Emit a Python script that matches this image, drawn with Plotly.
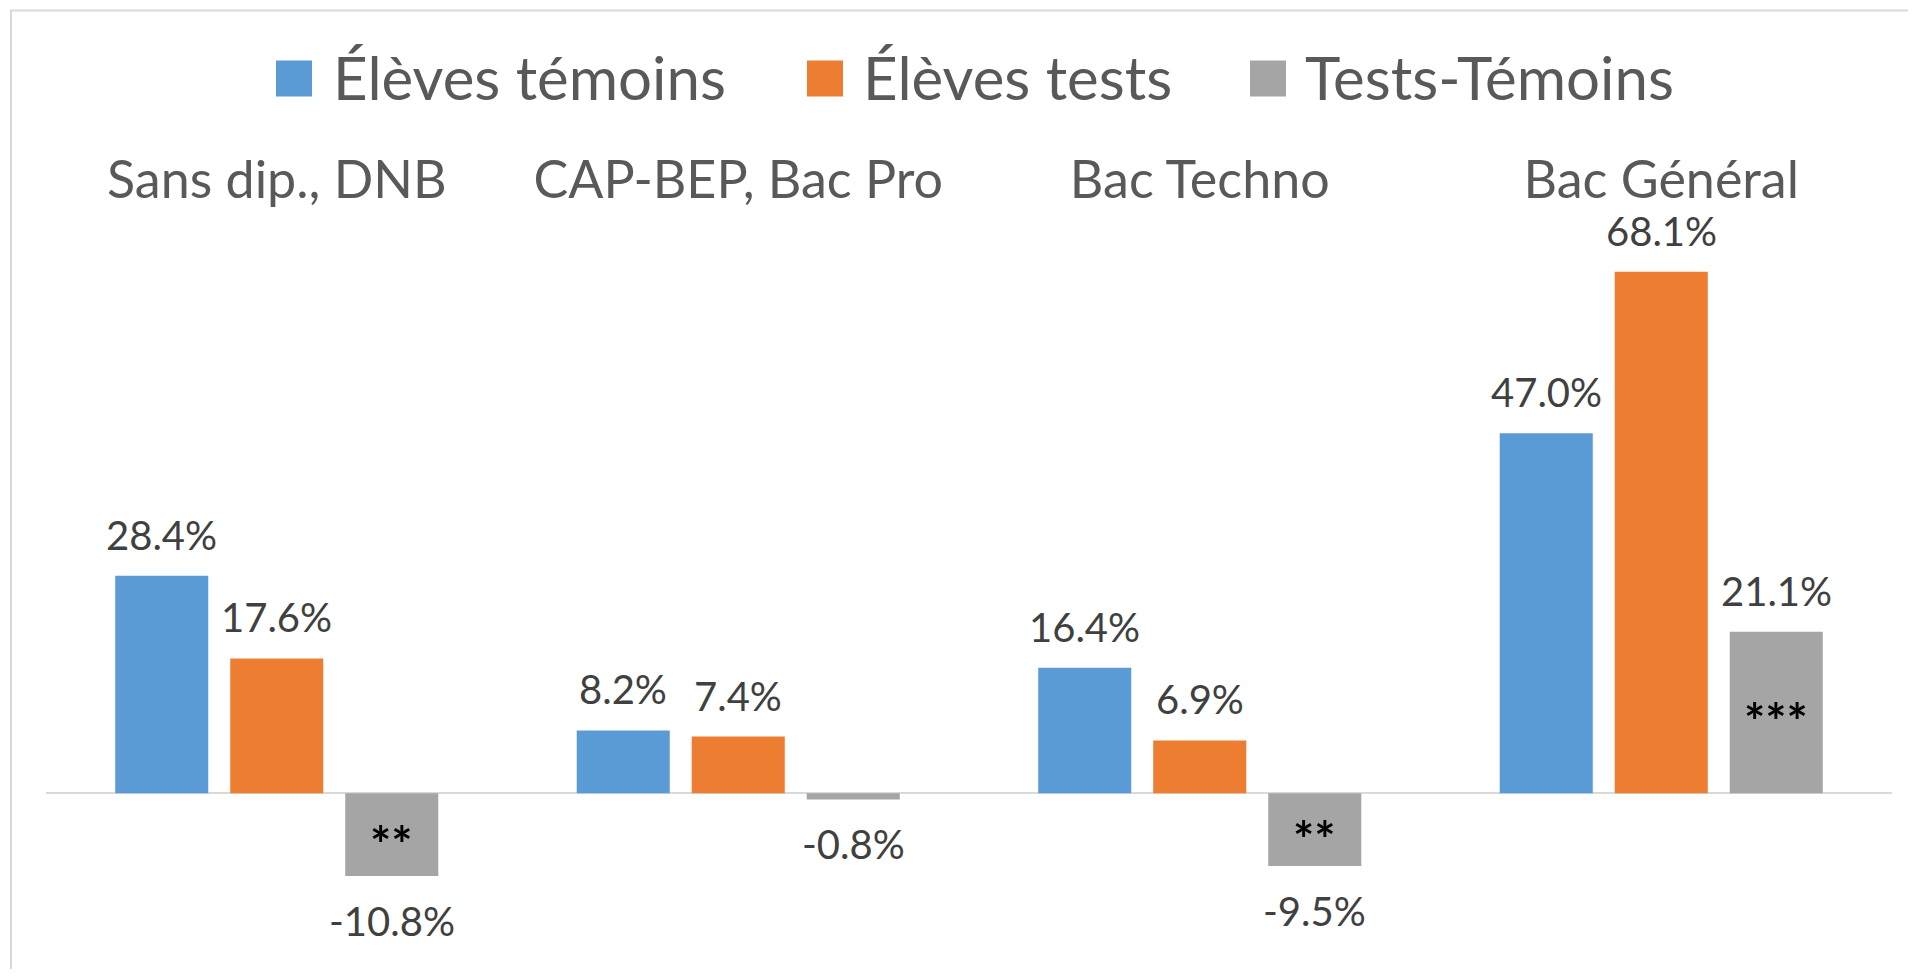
import plotly.graph_objects as go

# ---- data ----
categories = ["Sans dip., DNB", "CAP-BEP, Bac Pro", "Bac Techno", "Bac Général"]
temoins = [28.4, 8.2, 16.4, 47.0]
tests = [17.6, 7.4, 6.9, 68.1]
diff = [-10.8, -0.8, -9.5, 21.1]
signif = ["**", "", "**", "***"]
series_names = ["Élèves témoins", "Élèves tests", "Tests-Témoins"]
series_values = [temoins, tests, diff]
colors = ["#5B9BD5", "#ED7D31", "#A5A5A5"]

FONT = "Lato"
BARGAP = 0.2524
BARGROUPGAP = 0.191

W, H = 1900, 961
ML, MR, MT, MB = 38, 16, 222, 2
PW, PH = W - ML - MR, H - MT - MB
OFF = 8  # default page body margin


def px_x(page_x):
    return (page_x - OFF - ML) / PW


def px_y(page_y):
    return (H - MB - (page_y - OFF)) / PH


fig = go.Figure()
for name, vals, col in zip(series_names, series_values, colors):
    fig.add_trace(go.Bar(
        x=categories, y=vals, name=name,
        marker=dict(color=col, line=dict(width=0)),
        hoverinfo="x+y+name", showlegend=False,
    ))

slot = (1 - BARGAP) / len(series_values)
annotations = []
for i, vals in enumerate(series_values):
    for j, v in enumerate(vals):
        xpos = j + (i - (len(series_values) - 1) / 2) * slot
        annotations.append(dict(
            x=xpos, y=v, xref="x", yref="y", showarrow=False,
            text=f"{v:.1f}%", yshift=41 if v >= 0 else -45,
            font=dict(family=FONT, size=40, color="#404040"),
        ))
for j, (v, s) in enumerate(zip(diff, signif)):
    if s:
        xpos = j + slot
        annotations.append(dict(
            x=xpos, y=v / 2, xref="x", yref="y", showarrow=False,
            text=s, yshift=-9,
            font=dict(family=FONT, size=50, color="#000000", weight="bold"),
        ))

# legend (large square swatches as in the original)
legend_square_left = [276, 807, 1250]
legend_text_left = [331, 861, 1303]
shapes = []
for name, col, sx, tx in zip(series_names, colors, legend_square_left, legend_text_left):
    shapes.append(dict(
        type="rect", xref="paper", yref="paper",
        x0=px_x(sx), x1=px_x(sx + 36), y0=px_y(96.5), y1=px_y(60.5),
        line=dict(width=0), fillcolor=col,
    ))
    annotations.append(dict(
        x=px_x(tx), y=px_y(77), xref="paper", yref="paper",
        xanchor="left", yanchor="middle", showarrow=False, text=name,
        font=dict(family=FONT, size=60, color="#595959"),
    ))

# outer chart border
shapes.append(dict(
    type="rect", xref="paper", yref="paper",
    x0=px_x(11), x1=1.05, y0=-0.05, y1=px_y(10.5),
    line=dict(color="#D9D9D9", width=2), fillcolor="rgba(0,0,0,0)",
    layer="below",
))

fig.update_layout(
    width=W, height=H,
    margin=dict(l=ML, r=MR, t=MT, b=MB, pad=0),
    paper_bgcolor="white", plot_bgcolor="white",
    barmode="group", bargap=BARGAP, bargroupgap=BARGROUPGAP,
    font=dict(family=FONT, color="#595959"),
    showlegend=False,
    xaxis=dict(
        type="category", side="top", range=[-0.5, 3.5],
        showgrid=False, zeroline=False, showline=False, ticks="",
        tickfont=dict(family=FONT, size=52, color="#595959"),
        ticklabelstandoff=21,
    ),
    yaxis=dict(
        range=[-22.68, 73.54], showgrid=False, showticklabels=False,
        zeroline=True, zerolinecolor="#D9D9D9", zerolinewidth=2,
        showline=False, ticks="",
    ),
    annotations=annotations,
    shapes=shapes,
)

fig.write_html("out.html")
